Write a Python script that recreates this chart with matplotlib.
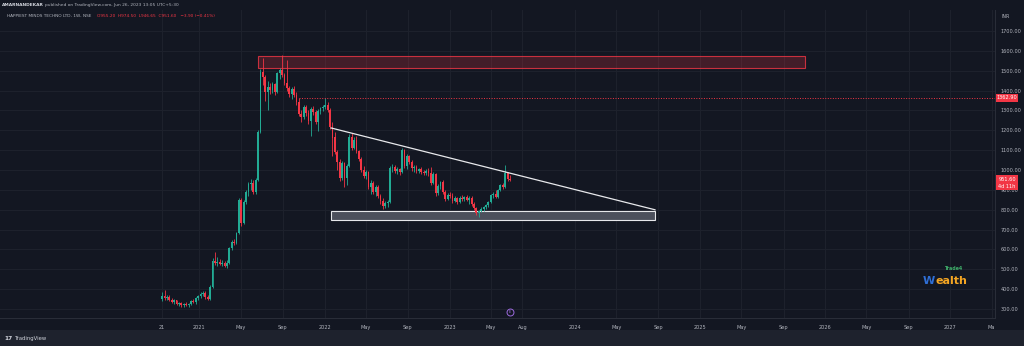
import numpy as np
import pandas as pd
import matplotlib
matplotlib.use("Agg")
import matplotlib.pyplot as plt
import matplotlib.dates as mdates
from matplotlib.patches import Rectangle

# ---------------------------------------------------------------- data
first_week = "2020-09-14"

opens = [351, 366, 358, 362, 345, 338, 344, 325, 330, 318, 326, 320, 328, 340, 335, 355,
         365, 378, 383, 360, 350, 410, 540, 530, 535, 528, 532, 515, 530, 605, 640, 635,
         685, 850, 735, 840, 890, 930, 935, 890, 950, 1190, 1495, 1470, 1395, 1420, 1405, 1435,
         1395, 1488, 1505, 1478, 1440, 1415, 1385, 1410, 1380, 1345, 1280, 1265, 1320, 1285, 1245, 1305,
         1290, 1240, 1295, 1310, 1318, 1330, 1300, 1215, 1165, 1090, 1040, 960, 1035, 960, 1020, 1165,
         1110, 1150, 1095, 1055, 1000, 970, 990, 915, 935, 890, 915, 870, 845, 820, 835, 840,
         1010, 1015, 995, 1005, 990, 1100, 1020, 1070, 1040, 1010, 1015, 995, 1005, 990, 985, 995,
         985, 935, 980, 885, 920, 940, 890, 855, 875, 870, 845, 860, 840, 860, 855, 865,
         850, 860, 830, 810, 785, 795, 805, 815, 825, 840, 875, 880, 865, 900, 925, 915,
         985, 955.2]
highs = [385, 395, 372, 370, 355, 350, 348, 335, 338, 330, 335, 332, 345, 350, 360, 372,
         385, 392, 390, 372, 420, 555, 585, 560, 550, 545, 540, 545, 615, 650, 652, 690,
         860, 860, 850, 900, 940, 955, 950, 960, 1200, 1510, 1565, 1480, 1450, 1440, 1445, 1440,
         1495, 1515, 1580, 1490, 1555, 1425, 1420, 1425, 1395, 1363, 1300, 1330, 1330, 1300, 1320, 1325,
         1300, 1305, 1320, 1330, 1363, 1345, 1310, 1240, 1190, 1100, 1055, 1045, 1040, 1030, 1180, 1186,
         1165, 1170, 1100, 1065, 1020, 1000, 995, 950, 945, 925, 925, 880, 860, 845, 850, 1020,
         1030, 1025, 1015, 1010, 1110, 1105, 1080, 1075, 1050, 1025, 1025, 1010, 1015, 1000, 1005, 1010,
         1015, 990, 985, 930, 945, 950, 900, 885, 890, 885, 870, 865, 870, 875, 870, 875,
         870, 870, 840, 815, 800, 815, 820, 830, 845, 880, 890, 900, 905, 930, 935, 1025,
         990, 974.5]
lows = [340, 345, 345, 340, 330, 328, 320, 315, 312, 310, 315, 312, 322, 330, 328, 348,
        355, 366, 352, 345, 348, 405, 520, 515, 520, 515, 510, 505, 525, 595, 622, 628,
        680, 720, 730, 830, 870, 900, 880, 880, 945, 1185, 1430, 1350, 1300, 1385, 1390, 1380,
        1390, 1460, 1470, 1430, 1400, 1370, 1360, 1370, 1330, 1270, 1240, 1255, 1270, 1230, 1170, 1275,
        1230, 1195, 1280, 1295, 1305, 1290, 1205, 1070, 1080, 1000, 945, 950, 915, 925, 1015, 1100,
        1105, 1085, 1045, 990, 960, 955, 905, 880, 880, 870, 860, 830, 805, 810, 815, 835,
        990, 985, 980, 975, 985, 1010, 1005, 1030, 995, 990, 985, 985, 980, 975, 975, 970,
        925, 930, 870, 875, 905, 880, 845, 850, 860, 835, 840, 830, 835, 845, 845, 845,
        830, 820, 800, 775, 762, 790, 795, 805, 815, 835, 860, 860, 860, 895, 905, 910,
        945, 946.65]
closes = [366, 358, 362, 345, 338, 344, 325, 330, 318, 326, 320, 328, 340, 335, 355, 365,
          378, 383, 360, 350, 410, 540, 530, 535, 528, 532, 515, 530, 605, 640, 635, 685,
          850, 735, 840, 890, 930, 935, 890, 950, 1190, 1495, 1470, 1395, 1420, 1405, 1435, 1395,
          1488, 1505, 1478, 1440, 1415, 1385, 1410, 1380, 1345, 1280, 1265, 1320, 1285, 1245, 1305, 1290,
          1240, 1295, 1310, 1318, 1330, 1300, 1215, 1160, 1090, 1040, 960, 1035, 960, 1020, 1165, 1110,
          1150, 1095, 1055, 1000, 970, 990, 915, 935, 890, 915, 870, 845, 820, 835, 840, 1010,
          1015, 995, 1005, 990, 1100, 1020, 1070, 1040, 1010, 1015, 995, 1005, 990, 985, 995, 985,
          935, 980, 885, 920, 940, 890, 855, 875, 870, 845, 860, 840, 860, 855, 865, 850,
          860, 830, 810, 785, 795, 805, 815, 825, 840, 875, 880, 865, 900, 925, 915, 985,
          955.5, 951.6]

x_tick_dates = ["2020-09-14", "2021-01-01", "2021-05-01", "2021-09-01", "2022-01-01", "2022-05-01",
                "2022-09-01", "2023-01-01", "2023-05-01", "2023-08-01", "2024-01-01", "2024-05-01",
                "2024-09-01", "2025-01-01", "2025-05-01", "2025-09-01", "2026-01-01", "2026-05-01",
                "2026-09-01", "2027-01-01", "2027-05-01"]
x_tick_labels = ["21", "2021", "May", "Sep", "2022", "May", "Sep", "2023", "May", "Aug", "2024", "May",
                 "Sep", "2025", "May", "Sep", "2026", "May", "Sep", "2027", "Ma"]
price_ticks = [300, 400, 500, 600, 700, 800, 900, 1000, 1100, 1200, 1300, 1400, 1500, 1600, 1700]

supply_zone = ("2021-06-21", "2025-11-04", 1515, 1575)
demand_zone = ("2022-01-20", "2024-08-22", 750, 795)
trend_line = (("2022-01-20", 1212), ("2024-08-22", 800))
resistance_level = ("2021-10-18", 1362.90)
last_price = 951.60

# ---------------------------------------------------------------- style
W, H = 1024, 346
BG = "#131722"
STRIP = "#1e222d"
GRID = "#1e222d"
TXT = "#b2b5be"
UP = "#22ab94"
DOWN = "#f23645"

fig = plt.figure(figsize=(W / 100, H / 100), dpi=100, facecolor=BG)


def fx(px):
    return px / W


def fy(py):
    return 1 - py / H


# chart panel in pixel coordinates
ax_l, ax_r, ax_t, ax_b = 0, 995, 10, 318
ax = fig.add_axes([fx(ax_l), fy(ax_b), fx(ax_r - ax_l), (ax_b - ax_t) / H])
ax.set_facecolor(BG)

dates = pd.date_range(first_week, periods=len(closes), freq="7D")
xd = mdates.date2num(dates.to_pydatetime())
o = np.array(opens, float)
h = np.array(highs, float)
l = np.array(lows, float)
c = np.array(closes, float)
up = c >= o
cols = np.where(up, UP, DOWN)

d = lambda s: mdates.date2num(pd.Timestamp(s))
ax.set_xlim(d("2019-05-30"), d("2027-05-11"))
ax.set_ylim(255, 1806)

# grid
tick_x = [d(t) for t in x_tick_dates]
for t in tick_x:
    ax.axvline(t, color=GRID, lw=0.7, zorder=0)
for p in price_ticks:
    ax.axhline(p, color=GRID, lw=0.7, zorder=0)

# zones
z0, z1, zlo, zhi = supply_zone
ax.add_patch(Rectangle((d(z0), zlo), d(z1) - d(z0), zhi - zlo,
                       facecolor=(0.95, 0.21, 0.27, 0.22), edgecolor=(0.95, 0.21, 0.27, 0.8),
                       lw=0.8, zorder=3))
z0, z1, zlo, zhi = demand_zone
ax.add_patch(Rectangle((d(z0), zlo), d(z1) - d(z0), zhi - zlo,
                       facecolor="#4c505c", edgecolor="#e6e7ea", lw=0.8, zorder=3))

# candles
ax.vlines(xd, l, h, colors=cols, lw=0.6, zorder=4)
body_lo = np.minimum(o, c)
body_h = np.maximum(np.abs(c - o), 2.0)
ax.bar(xd, body_h, bottom=body_lo, width=5.4, color=cols, linewidth=0, zorder=5)

# trend line
(t0, p0), (t1, p1) = trend_line
ax.plot([d(t0), d(t1)], [p0, p1], color="#e8e9ec", lw=0.9, zorder=6)

# horizontal resistance ray
rs, rp = resistance_level
ax.plot([d(rs), ax.get_xlim()[1]], [rp, rp], color=DOWN, lw=0.7,
        ls=(0, (1, 1.6)), zorder=6)

# axes styling
ax.set_xticks(tick_x)
ax.set_xticklabels(x_tick_labels)
ax.yaxis.tick_right()
ax.set_yticks(price_ticks)
ax.set_yticklabels([f"{p:.2f}" for p in price_ticks])
ax.tick_params(axis="both", length=0, colors=TXT, labelsize=3.6)
ax.tick_params(axis="x", pad=5)
ax.tick_params(axis="y", pad=4)
for s in ("top", "left"):
    ax.spines[s].set_visible(False)
for s in ("right", "bottom"):
    ax.spines[s].set_color("#2a2e39")
    ax.spines[s].set_linewidth(0.7)


# price axis tags
def tag(py, lines):
    hgt = 7 * len(lines) + 1
    fig.patches.append(Rectangle((fx(996), fy(py + hgt / 2)), fx(22), hgt / H,
                                 transform=fig.transFigure, facecolor=DOWN, edgecolor="none", zorder=10))
    for k, s in enumerate(lines):
        fig.text(fx(1007), fy(py - hgt / 2 + 4 + 7 * k), s, color="white", fontsize=3.6,
                 ha="center", va="center", zorder=11)


ypix = lambda v: ax_t + (1806 - v) / (1806 - 255) * (ax_b - ax_t)
tag(ypix(rp), [f"{rp:.2f}"])
tag(ypix(last_price) + 3, [f"{last_price:.2f}", "4d 11h"])
fig.text(fx(1006), fy(16), "INR", color=TXT, fontsize=3.4, ha="center", va="center")

# bottom strip with brand mark
fig.patches.append(Rectangle((0, 0), 1, (H - 330) / H, transform=fig.transFigure,
                             facecolor=STRIP, edgecolor="none", zorder=1))
fig.text(fx(4), fy(338.5), "17", color="#d1d4dc", fontsize=4.2, fontweight="bold", va="center")
fig.text(fx(15), fy(338.5), "TradingView", color="#d1d4dc", fontsize=3.8, va="center")

# header lines
fig.text(fx(2), fy(5), "AMARNANDEKAR", color="#d1d4dc", fontsize=3.2, fontweight="bold", va="center")
fig.text(fx(45), fy(5), "published on TradingView.com, Jun 26, 2023 13:05 UTC+5:30",
         color=TXT, fontsize=3.2, va="center")
fig.text(fx(7), fy(16), "HAPPIEST MINDS TECHNO LTD, 1W, NSE", color=TXT, fontsize=3.1, va="center")
fig.text(fx(97), fy(16), "O955.20  H974.50  L946.65  C951.60   −3.90 (−0.41%)", color=DOWN,
         fontsize=3.1, va="center")

# earnings marker
ev_x = d("2023-06-26")
ax.plot([ev_x], [285], marker="o", ms=5, mfc="none", mec="#9c6ade", mew=0.7, zorder=7, clip_on=False)
ax.text(ev_x, 285, "E", color="#9c6ade", fontsize=2.6, ha="center", va="center", zorder=7)

# watermark logo
fig.text(fx(944), fy(268), "Trade4", color="#3fae6a", fontsize=3.4, fontweight="bold",
         va="center", ha="left")
fig.text(fx(923), fy(281), "W", color="#2f6fd6", fontsize=8, fontweight="bold", va="center", ha="left")
fig.text(fx(936), fy(281), "ealth", color="#f5a623", fontsize=8, fontweight="bold", va="center", ha="left")

fig.savefig("out.png", dpi=100, facecolor=BG)
